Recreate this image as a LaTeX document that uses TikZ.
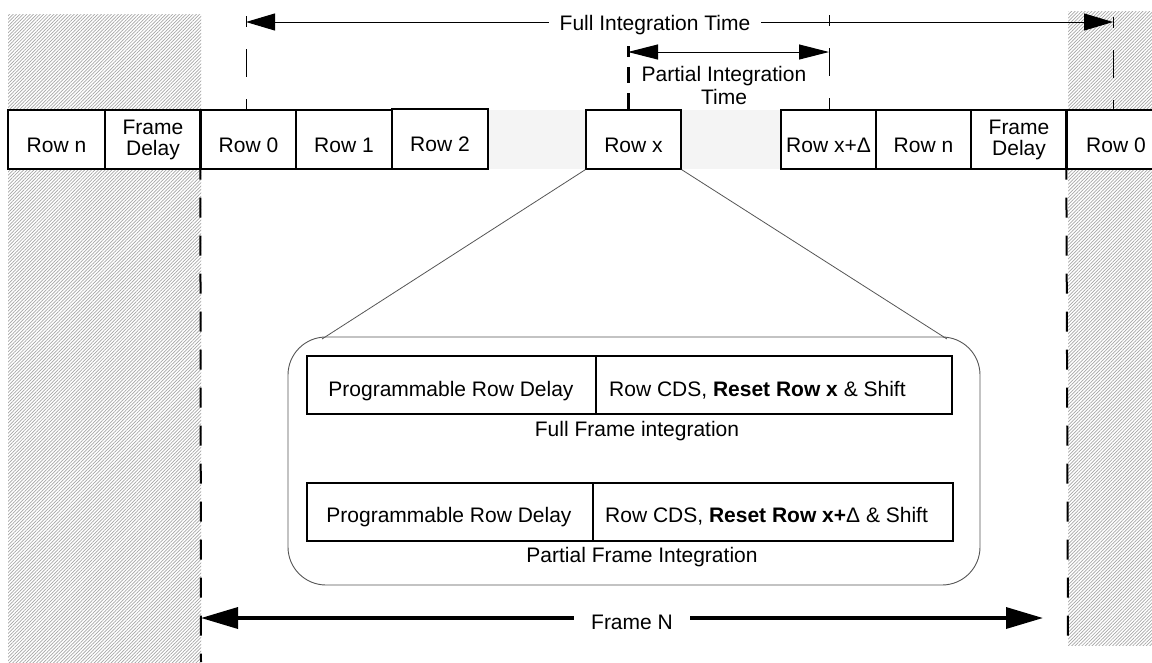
\documentclass[tikz,border=0pt]{standalone}
\usepackage{fontspec}
\setmainfont{Liberation Sans}
\usetikzlibrary{arrows.meta,patterns.meta}
\definecolor{bandgray}{HTML}{F4F4F4}
\definecolor{linegray}{HTML}{555555}
\begin{document}
\begin{tikzpicture}[x=1pt,y=-1pt,
  hatch/.style={pattern={Lines[angle=45,distance=2.4pt,line width=0.7pt]},pattern color=black!35},
  rowbox/.style={draw,fill=white,line width=1.3pt,minimum height=59pt,inner sep=0pt,font=\fontsize{21}{21}\selectfont},
  single/.style={text height=25pt,text depth=0pt},
  twoline/.style={align=center},
  txt/.style={font=\fontsize{21}{23}\selectfont,inner sep=0pt},
  tick/.style={line width=1pt,dash pattern=on 11pt off 22pt on 28pt off 22pt},
  thicktick/.style={line width=3pt,dash pattern=on 11pt off 10pt on 16pt off 10pt on 17pt off 10pt},
  frameline/.style={line width=2pt,dash pattern=on 20pt off 18pt},
  dimarrow/.style={line width=1pt,{Triangle[length=29pt,width=17pt]}-{Triangle[length=29pt,width=17pt]}},
  partarrow/.style={line width=1pt,{Triangle[length=30pt,width=15pt]}-{Triangle[length=30pt,width=15pt]}},
  bigarrow/.style={line width=3.5pt,{Triangle[length=37pt,width=21pt]}-{Triangle[length=37pt,width=21pt]}},
  innerbox/.style={draw,line width=1.2pt,minimum height=58pt,inner sep=0pt},
  zoomline/.style={draw=linegray,line width=0.8pt}
]
\useasboundingbox (0,0) rectangle (1152,662);

% hatched margins
\path[hatch] (8,14) rectangle (201,662);
\path[hatch] (1068,11) rectangle (1152,645);

% light gray bands between rows
\fill[bandgray] (488,110) rectangle (586,169);
\fill[bandgray] (681,110) rectangle (781,169);

% row boxes
\node[rowbox,single,minimum width=97pt] (rn1) at (56.5,139.5) {Row n};
\node[rowbox,twoline,minimum width=96pt] (fd1) at (153,139.5) {Frame\\Delay};
\node[rowbox,single,minimum width=95pt] (r01) at (248.5,139.5) {Row 0};
\node[rowbox,single,minimum width=96pt] (r1) at (344,139.5) {Row 1};
\node[rowbox,single,minimum width=96pt,minimum height=60pt] (r2) at (440,139) {Row 2};
\node[rowbox,single,minimum width=95pt] (rx) at (633.5,139.5) {Row x};
\node[rowbox,single,minimum width=95pt] (rxd) at (828.5,139.5) {Row x+Δ};
\node[rowbox,single,minimum width=95pt] (rn2) at (923.5,139.5) {Row n};
\node[rowbox,twoline,minimum width=96pt] (fd2) at (1019,139.5) {Frame\\Delay};
\node[rowbox,single,minimum width=98pt] (r02) at (1116,139.5) {Row 0};
\draw[line width=2.2pt] (r01.north west) -- (r01.south west);
\draw[line width=2.2pt] (r02.north west) -- (r02.south west);

% frame boundaries
\coordinate (fbl) at (201,662);
\coordinate (fbr) at (1068,645);
\draw[frameline,dash phase=10pt] (r01.south west) -- (fbl);
\draw[frameline,dash phase=10pt] (r02.south west) -- (fbr);

% integration time markers
\coordinate (t0) at (246,16);
\coordinate (tx) at (628,46);
\coordinate (td) at (829,15);
\coordinate (tn) at (1113,17);
\draw[tick] (t0) -- (t0 |- r01.north);
\draw[tick] (td) -- (td |- rxd.north);
\draw[tick] (tn) -- (tn |- r02.north);
\draw[thicktick] (tx) -- (tx |- rx.north);

\coordinate (fa) at (246,22);
\coordinate (fb) at (1113,22);
\draw[dimarrow] (fa) -- (fb);
\node[txt,fill=white,inner xsep=11pt,anchor=base] (fit) at (655,30) {Full Integration Time};

\coordinate (pa) at (628,52);
\coordinate (pb) at (829,52);
\draw[partarrow] (pa) -- (pb);
\node[txt,align=center] (pit) at (724,85) {Partial Integration\\Time};

% zoom-in of row x
\node[draw=linegray,line width=0.9pt,rounded corners=38pt,minimum width=692pt,minimum height=248pt] (zoom) at (634,461) {};
\coordinate (zl) at (322,339);
\coordinate (zr) at (947,339);
\draw[zoomline] (rx.south west) -- (zl);
\draw[zoomline] (rx.south east) -- (zr);

\node[innerbox,minimum width=289pt] (pd1) at (451.5,385) {};
\node[innerbox,minimum width=356pt] (rc1) at (774,385) {};
\node[txt,anchor=base] (pd1t) at (451,396) {Programmable Row Delay};
\node[txt,anchor=base west] (rc1t) at (609,396) {Row CDS, \textbf{Reset Row x} \& Shift};
\node[txt,anchor=base] (cap1) at (637,436) {Full Frame integration};

\node[innerbox,minimum width=286pt] (pd2) at (450,512) {};
\node[innerbox,minimum width=360pt] (rc2) at (773,512) {};
\node[txt,anchor=base] (pd2t) at (449,522) {Programmable Row Delay};
\node[txt,anchor=base west] (rc2t) at (605,522) {Row CDS, \textbf{Reset Row x+}Δ \& Shift};
\node[txt,anchor=base] (cap2) at (642,562) {Partial Frame Integration};

% frame N arrow
\coordinate (nl) at (201,618);
\coordinate (nr) at (1043,618);
\draw[bigarrow] (nl) -- (nr);
\node[txt,fill=white,inner xsep=17pt,anchor=base] (fn) at (632,629) {Frame N};
\end{tikzpicture}
\end{document}
